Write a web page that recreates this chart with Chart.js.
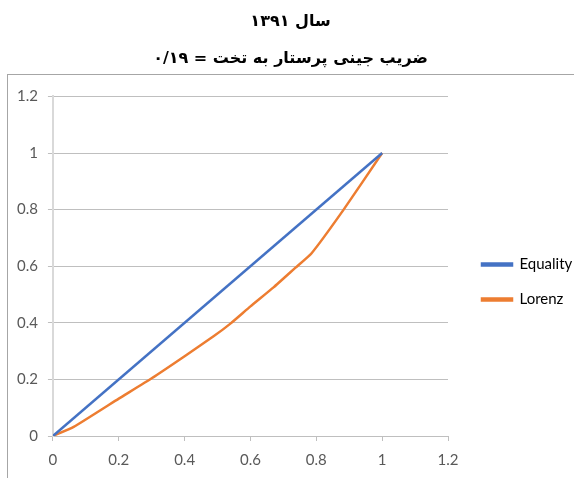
<!DOCTYPE html>
<html>
<head>
<meta charset="utf-8">
<script src="https://cdn.jsdelivr.net/npm/chart.js@4/dist/chart.umd.min.js"></script>
<style>
  html, body { margin: 0; padding: 0; background: #fff; }
  #wrap { width: 574px; height: 478px; }
</style>
</head>
<body>
<div id="wrap"><canvas id="gini-chart"></canvas></div>
<script>
var titleLine1 = 'سال ۱۳۹۱';
var titleLine2 = 'ضریب جینی پرستار به تخت = ۰/۱۹';

var equalityX = [0, 1];
var equalityY = [0, 1];

var lorenzX = [0, 0.063, 0.2, 0.3, 0.4, 0.49, 0.54, 0.6, 0.67, 0.737, 0.785, 0.883, 1];
var lorenzY = [0, 0.032, 0.132, 0.204, 0.282, 0.354, 0.398, 0.458, 0.525, 0.595, 0.645, 0.8, 1];

var axisTicks = [0, 0.2, 0.4, 0.6, 0.8, 1, 1.2];

function toPoints(xs, ys) {
  return xs.map(function(x, i) { return { x: x, y: ys[i] }; });
}

function fixedTicks(axis) {
  axis.ticks = axisTicks.map(function(v) { return { value: v }; });
}

function tickText(v) {
  return String(Math.round(v * 10) / 10);
}

// grey border of the chart object, cut by the picture's right/bottom edges
var framePlugin = {
  id: 'frame',
  beforeDraw: function(chart) {
    var ctx = chart.ctx;
    ctx.save();
    ctx.strokeStyle = '#a6a6a6';
    ctx.lineWidth = 1;
    ctx.strokeRect(7.5, 74.5, 700, 600);
    ctx.restore();
  }
};

var ctx = document.getElementById('gini-chart').getContext('2d');
new Chart(ctx, {
  type: 'scatter',
  data: {
    datasets: [{
      label: 'Equality',
      data: toPoints(equalityX, equalityY),
      showLine: true,
      borderColor: '#4472C4',
      backgroundColor: '#4472C4',
      borderWidth: 2.5,
      pointRadius: 0
    }, {
      label: 'Lorenz',
      data: toPoints(lorenzX, lorenzY),
      showLine: true,
      borderColor: '#ED7D31',
      backgroundColor: '#ED7D31',
      borderWidth: 2.5,
      pointRadius: 0,
      tension: 0.15
    }]
  },
  options: {
    responsive: true,
    maintainAspectRatio: false,
    animation: false,
    layout: { padding: { left: 7, right: 0, bottom: -2 } },
    plugins: {
      title: {
        display: true,
        text: titleLine1,
        color: '#000',
        font: { family: 'DejaVu Sans', size: 16, weight: 'bold' },
        padding: { top: 12, bottom: 18 }
      },
      subtitle: {
        display: true,
        text: titleLine2,
        color: '#000',
        font: { family: 'DejaVu Sans', size: 16, weight: 'bold' },
        padding: { top: 0, bottom: 28 }
      },
      legend: {
        position: 'right',
        maxWidth: 112,
        title: {
          display: true,
          text: ' ',
          font: { size: 10, lineHeight: 1 },
          padding: { top: 74, bottom: 0 }
        },
        labels: {
          boxWidth: 30,
          boxHeight: 2,
          padding: 20,
          color: '#000',
          font: { family: 'Lato', size: 15 }
        }
      },
      tooltip: { enabled: false }
    },
    scales: {
      x: {
        type: 'linear',
        min: 0,
        max: 1.2,
        afterBuildTicks: fixedTicks,
        grid: { drawOnChartArea: false, color: '#bfbfbf', tickLength: 5 },
        border: { color: '#bfbfbf', width: 1 },
        ticks: {
          color: '#595959',
          font: { family: 'Lato', size: 15, lineHeight: 1 },
          padding: 12,
          callback: tickText
        }
      },
      y: {
        type: 'linear',
        min: 0,
        max: 1.2,
        afterBuildTicks: fixedTicks,
        grid: { color: '#bfbfbf', tickLength: 5 },
        border: { color: '#d9d9d9', width: 2 },
        ticks: {
          color: '#595959',
          font: { family: 'Lato', size: 15 },
          padding: 10,
          callback: tickText
        }
      },
      // empty spacer between the plot and the legend
      gap: {
        type: 'linear',
        position: 'right',
        display: true,
        grid: { display: false },
        border: { display: false },
        ticks: { display: false },
        afterFit: function(scale) { scale.width = 14; }
      }
    }
  },
  plugins: [framePlugin]
});
</script>
</body>
</html>
